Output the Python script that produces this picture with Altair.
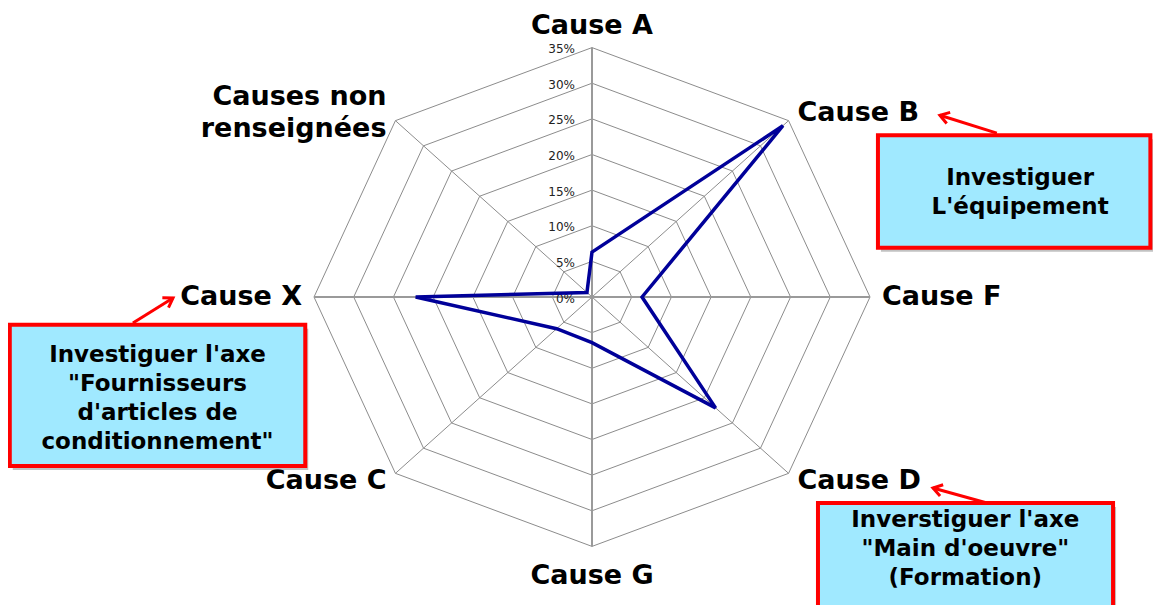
import altair as alt
import numpy as np
import pandas as pd

# ---------------- data ----------------
categories = ["Cause A", "Cause B", "Cause F", "Cause D", "Cause G",
              "Cause C", "Cause X", "Causes non renseignées"]
label_texts = ["Cause A", "Cause B", "Cause F", "Cause D", "Cause G",
               "Cause C", "Cause X", "Causes non\nrenseignées"]
values = [6.3, 34.0, 6.3, 22.0, 6.4, 6.3, 22.2, 0.9]   # percent
tick_values = [0, 5, 10, 15, 20, 25, 30, 35]
tick_labels = ["0%", "5%", "10%", "15%", "20%", "25%", "30%", "35%"]
notes = ["Investiguer\nL'équipement",
         "Investiguer l'axe\n\"Fournisseurs\nd'articles de\nconditionnement\"",
         "Inverstiguer l'axe\n\"Main d'oeuvre\"\n(Formation)"]
# annotation boxes / arrows, in radar units (percent along axes)
note_x1 = [36.0, -73.3, 28.45]
note_x2 = [70.3, -36.1, 65.6]
note_y1 = [22.7, -3.9, -28.9]
note_y2 = [6.9, -23.7, -43.6]
note_tx = [53.9, -54.7, 47.0]
note_ty = [14.6, -14.2, -35.3]
arrow_from_x = [50.97, -57.8, 49.73]
arrow_from_y = [22.99, -3.65, -28.9]
arrow_to_x = [43.8, -52.75, 42.93]
arrow_to_y = [25.5, -0.14, -26.8]

# ---------------- layout ----------------
W, H = 1145, 597
CX, CY = 584, 289           # centre of the radar in chart pixels
RMAX = 35
KX = 278 / RMAX             # px per percent (horizontal)
KY = 249.4 / RMAX           # px per percent (vertical)
xdom = [-CX / KX, (W - CX) / KX]
ydom = [-(H - CY) / KY, CY / KY]
XS = alt.Scale(domain=xdom, nice=False, zero=False)
YS = alt.Scale(domain=ydom, nice=False, zero=False)
FONT_B = "DejaVu Sans"
LAB_LH = 32
NOTE_LH = 29
n = len(categories)


def X(f):
    return alt.X(f, type="quantitative", scale=XS, axis=None)


def Y(f):
    return alt.Y(f, type="quantitative", scale=YS, axis=None)


# series
series = pd.DataFrame({"cat": categories, "idx": list(range(n)), "v": values})
# grid
grid = pd.DataFrame([(lv, i) for lv in tick_values[1:] for i in range(n)],
                    columns=["level", "idx"])
spokes = pd.DataFrame({"idx": list(range(n)), "r": [RMAX] * n, "z": [0] * n})
ticks = pd.DataFrame({"t": tick_values, "lab": tick_labels, "z": [0] * len(tick_values)})

# category labels (first-line anchor so multi-line blocks stay centred)
rows = []
for i, txt in enumerate(label_texts):
    a = i * np.pi / 4
    s, c = np.sin(a), np.cos(a)
    vx, vy = RMAX * KX * s, RMAX * KY * c
    nrm = np.hypot(vx, vy)
    if abs(s) < 0.1:
        off = 22 if c > 0 else 30
    else:
        off = 12
    px, py = vx + off * vx / nrm, vy + off * vy / nrm
    nl = txt.count("\n") + 1
    py += (nl - 1) * LAB_LH / 2
    align = "left" if s > 0.1 else ("right" if s < -0.1 else "center")
    rows.append({"txt": txt, "lx": px / KX, "ly": py / KY, "al": align})
labels = pd.DataFrame(rows)

boxes = pd.DataFrame({"x1": note_x1, "x2": note_x2, "y1": note_y1, "y2": note_y2,
                      "tx": note_tx, "ty": note_ty, "txt": notes})
boxes["nl"] = boxes["txt"].str.count("\n") + 1
boxes["ty1"] = boxes["ty"] + (boxes["nl"] - 1) * NOTE_LH / 2 / KY
boxes["sx1"] = boxes["x1"] + 3 / KX
boxes["sx2"] = boxes["x2"] + 3 / KX
boxes["sy1"] = boxes["y1"] - 4 / KY
boxes["sy2"] = boxes["y2"] - 4 / KY

arrows = pd.DataFrame({"ax": arrow_from_x, "ay": arrow_from_y,
                       "bx": arrow_to_x, "by": arrow_to_y})
arrows["ang"] = np.degrees(np.arctan2(-(arrows["by"] - arrows["ay"]) * KY,
                                      (arrows["bx"] - arrows["ax"]) * KX)) % 360

polar = dict(ang="datum.idx * PI / 4")

grid_layer = alt.Chart(grid).transform_calculate(
    **polar, gx="datum.level * sin(datum.ang)", gy="datum.level * cos(datum.ang)"
).mark_line(interpolate="linear-closed", color="#8c8c8c", strokeWidth=1).encode(
    x=X("gx"), y=Y("gy"), detail="level:N", order="idx:Q")

spoke_base = alt.Chart(spokes).transform_calculate(
    **polar, sx="datum.r * sin(datum.ang)", sy="datum.r * cos(datum.ang)")
spokes_thin = spoke_base.transform_filter("datum.idx % 2 == 1").mark_rule(
    color="#8c8c8c", strokeWidth=1).encode(
    x=X("sx"), y=Y("sy"), x2="z:Q", y2="z:Q")
spokes_thick = spoke_base.transform_filter("datum.idx % 2 == 0").mark_rule(
    color="#9a9a9a", strokeWidth=2).encode(
    x=X("sx"), y=Y("sy"), x2="z:Q", y2="z:Q")

tick_layer = alt.Chart(ticks).mark_text(
    align="right", baseline="middle", dx=-17, dy=1.5, font="DejaVu Sans",
    fontSize=12, color="#222222").encode(x=X("z"), y=Y("t"), text="lab:N")

line_layer = alt.Chart(series).transform_calculate(
    **polar, px="datum.v * sin(datum.ang)", py="datum.v * cos(datum.ang)"
).mark_line(interpolate="linear-closed", color="#000099", strokeWidth=3.5,
            strokeJoin="miter").encode(x=X("px"), y=Y("py"), order="idx:Q")

label_layers = []
for al in ["left", "right", "center"]:
    label_layers.append(
        alt.Chart(labels).transform_filter(f"datum.al == '{al}'").mark_text(
            align=al, baseline="middle", font=FONT_B, fontWeight="bold",
            fontSize=27, lineHeight=LAB_LH, lineBreak="\n", color="black").encode(
            x=X("lx"), y=Y("ly"), text="txt:N"))

shadow_layer = alt.Chart(boxes).mark_rect(color="#777777", opacity=0.45).encode(
    x=X("sx1"), x2="sx2:Q", y=Y("sy1"), y2="sy2:Q")
box_layer = alt.Chart(boxes).mark_rect(
    fill="#A0E9FF", stroke="#FF0000", strokeWidth=4).encode(
    x=X("x1"), x2="x2:Q", y=Y("y1"), y2="y2:Q")
note_layer = alt.Chart(boxes).mark_text(
    align="center", baseline="middle", font=FONT_B, fontWeight="bold",
    fontSize=23, lineHeight=NOTE_LH, lineBreak="\n", color="black").encode(
    x=X("tx"), y=Y("ty1"), text="txt:N")

shaft_layer = alt.Chart(arrows).mark_rule(color="#FF0000", strokeWidth=3).encode(
    x=X("ax"), y=Y("ay"), x2="bx:Q", y2="by:Q")
head_layer = alt.Chart(arrows).mark_point(
    shape="M-1,-0.65L0,0L-1,0.65", filled=False, stroke="#FF0000",
    strokeWidth=3, size=320, opacity=1).encode(
    x=X("bx"), y=Y("by"), angle=alt.Angle("ang:Q", scale=None))

chart = alt.layer(
    grid_layer, spokes_thin, spokes_thick, tick_layer, line_layer,
    *label_layers, shaft_layer, head_layer, shadow_layer, box_layer, note_layer
).properties(
    width=W, height=H, padding=0,
    autosize=alt.AutoSizeParams(type="none"),
    background="white"
).configure_view(stroke=None)

chart.save("out.html", embed_options={"renderer": "svg", "actions": False})
